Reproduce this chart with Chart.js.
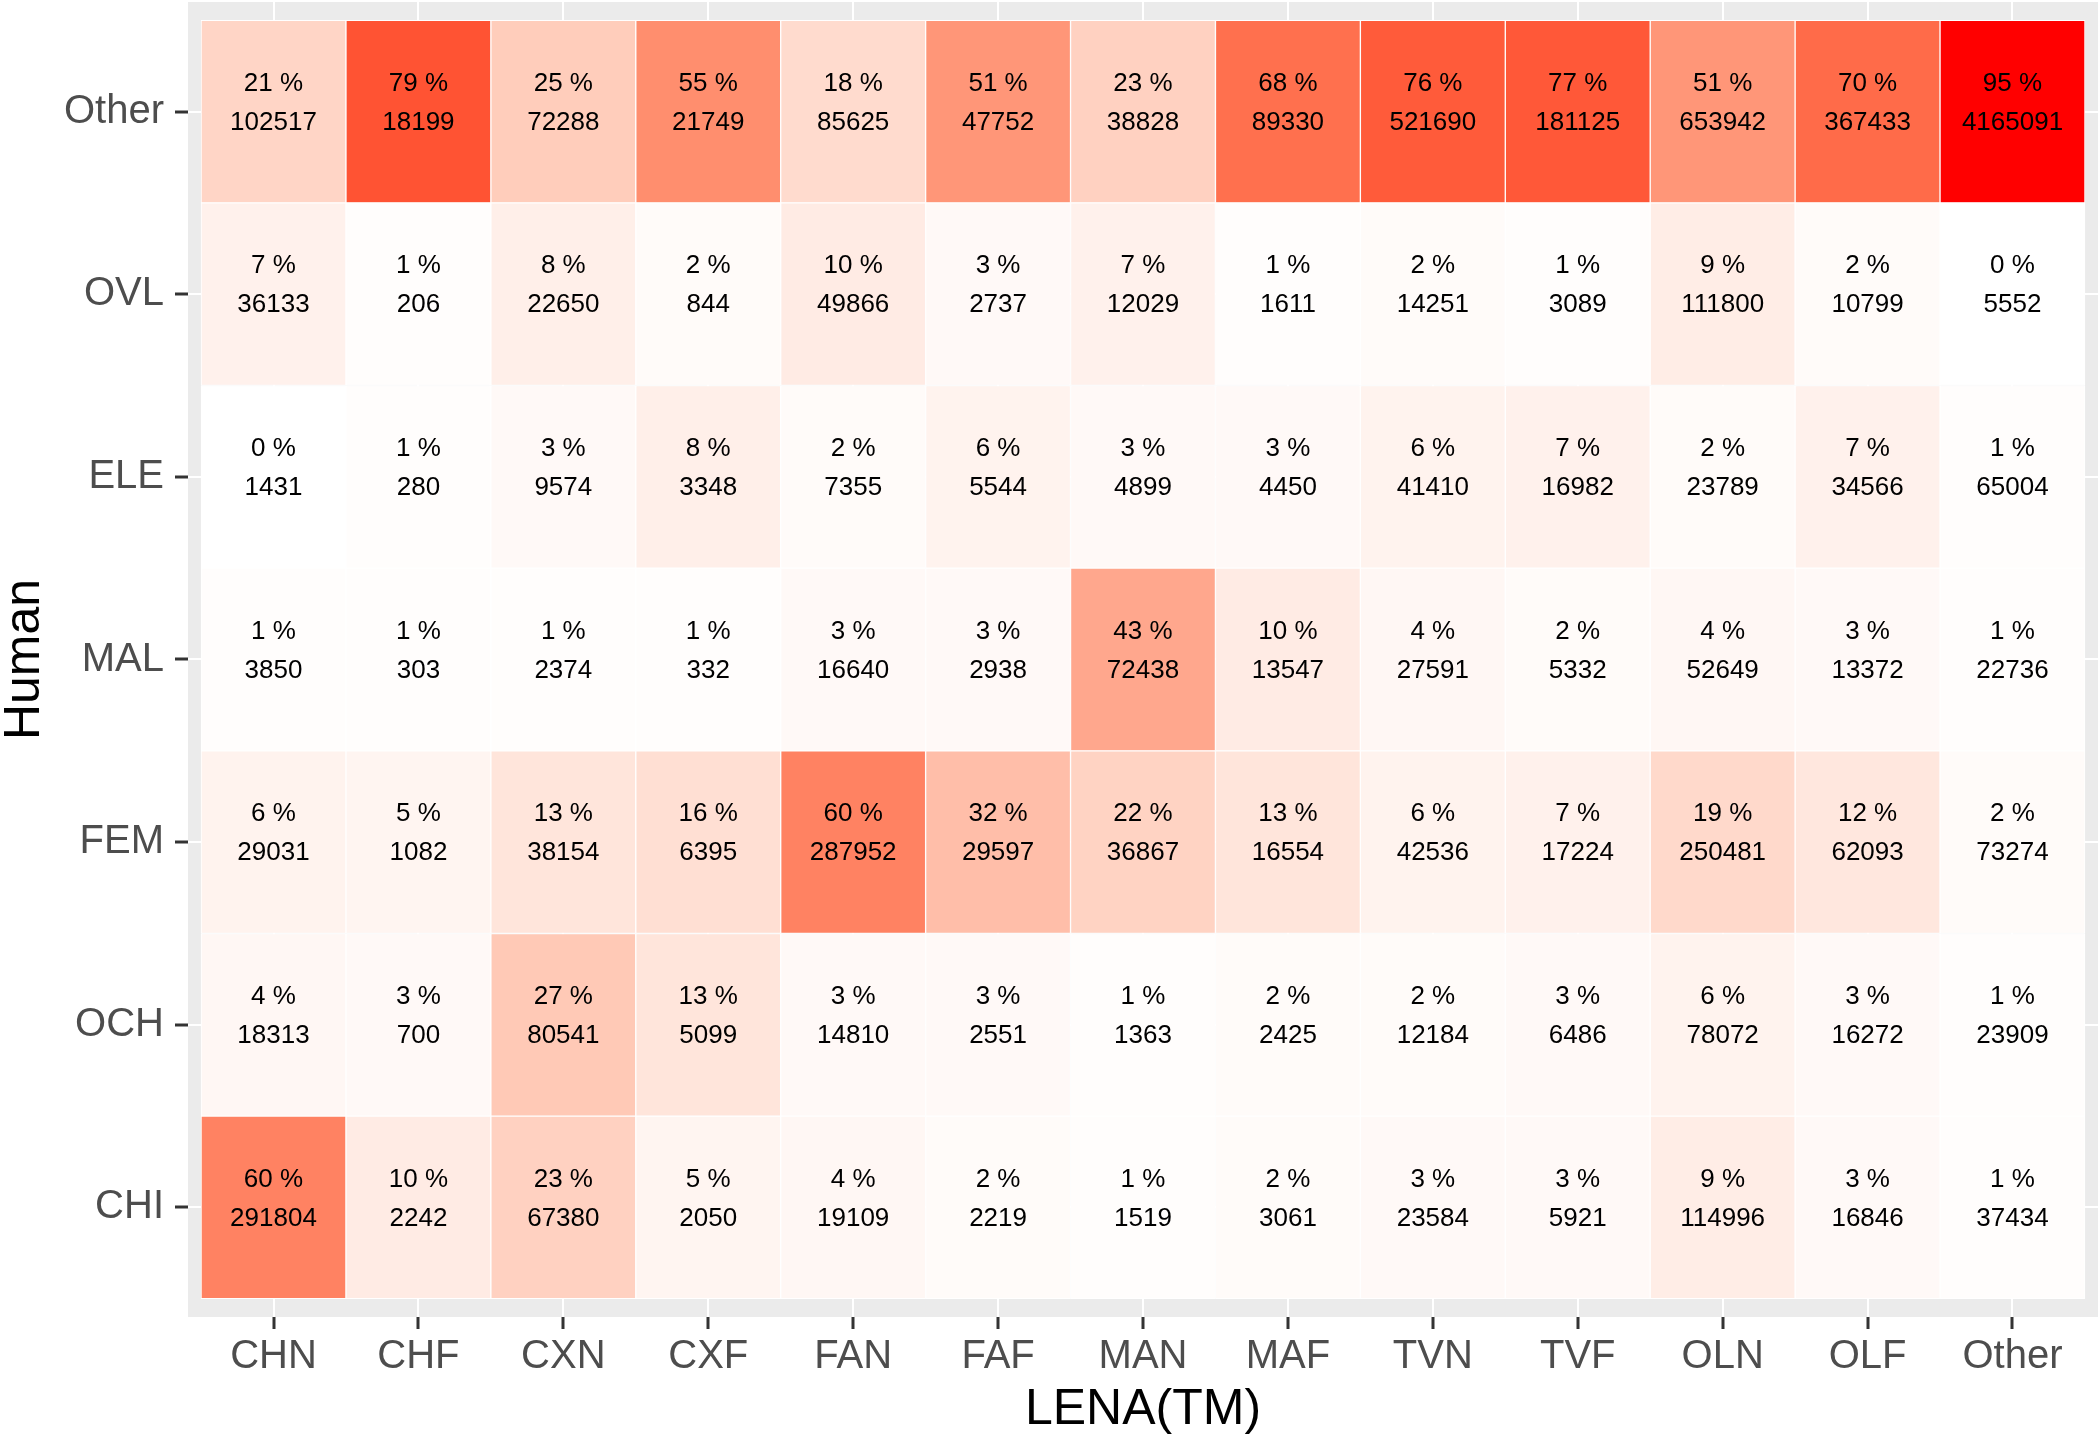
<!DOCTYPE html>
<html>
<head>
<meta charset="utf-8">
<script src="https://cdn.jsdelivr.net/npm/chart.js@4.4.1/dist/chart.umd.min.js"></script>
<style>
  html, body { margin: 0; padding: 0; background: #ffffff; }
  canvas { display: block; }
</style>
</head>
<body>
<canvas id="heat" width="2100" height="1440"></canvas>
<script>
// LENA(TM) columns, Human rows (bottom to top)
var lenaCats = ['CHN', 'CHF', 'CXN', 'CXF', 'FAN', 'FAF', 'MAN', 'MAF', 'TVN', 'TVF', 'OLN', 'OLF', 'Other'];
var humanCats = ['CHI', 'OCH', 'FEM', 'MAL', 'ELE', 'OVL', 'Other'];

// percent of column, then raw counts, one pair per human row
var pctCHI = [60, 10, 23, 5, 4, 2, 1, 2, 3, 3, 9, 3, 1];
var cntCHI = [291804, 2242, 67380, 2050, 19109, 2219, 1519, 3061, 23584, 5921, 114996, 16846, 37434];
var pctOCH = [4, 3, 27, 13, 3, 3, 1, 2, 2, 3, 6, 3, 1];
var cntOCH = [18313, 700, 80541, 5099, 14810, 2551, 1363, 2425, 12184, 6486, 78072, 16272, 23909];
var pctFEM = [6, 5, 13, 16, 60, 32, 22, 13, 6, 7, 19, 12, 2];
var cntFEM = [29031, 1082, 38154, 6395, 287952, 29597, 36867, 16554, 42536, 17224, 250481, 62093, 73274];
var pctMAL = [1, 1, 1, 1, 3, 3, 43, 10, 4, 2, 4, 3, 1];
var cntMAL = [3850, 303, 2374, 332, 16640, 2938, 72438, 13547, 27591, 5332, 52649, 13372, 22736];
var pctELE = [0, 1, 3, 8, 2, 6, 3, 3, 6, 7, 2, 7, 1];
var cntELE = [1431, 280, 9574, 3348, 7355, 5544, 4899, 4450, 41410, 16982, 23789, 34566, 65004];
var pctOVL = [7, 1, 8, 2, 10, 3, 7, 1, 2, 1, 9, 2, 0];
var cntOVL = [36133, 206, 22650, 844, 49866, 2737, 12029, 1611, 14251, 3089, 111800, 10799, 5552];
var pctOther = [21, 79, 25, 55, 18, 51, 23, 68, 76, 77, 51, 70, 95];
var cntOther = [102517, 18199, 72288, 21749, 85625, 47752, 38828, 89330, 521690, 181125, 653942, 367433, 4165091];

var pctRows = [pctCHI, pctOCH, pctFEM, pctMAL, pctELE, pctOVL, pctOther];
var cntRows = [cntCHI, cntOCH, cntFEM, cntMAL, cntELE, cntOVL, cntOther];

// white -> red in Lab, like scale_fill_gradient
var toLab = (r, g, b) => {
  var lin = (c) => { c /= 255; return c > 0.04045 ? Math.pow((c + 0.055) / 1.055, 2.4) : c / 12.92; };
  r = lin(r); g = lin(g); b = lin(b);
  var X = (0.4124 * r + 0.3576 * g + 0.1805 * b) / 0.95047;
  var Y = (0.2126 * r + 0.7152 * g + 0.0722 * b);
  var Z = (0.0193 * r + 0.1192 * g + 0.9505 * b) / 1.08883;
  var f = (t) => t > 0.008856 ? Math.cbrt(t) : 7.787 * t + 16 / 116;
  return [116 * f(Y) - 16, 500 * (f(X) - f(Y)), 200 * (f(Y) - f(Z))];
};
var fromLab = (L, a, bb) => {
  var fy = (L + 16) / 116, fx = fy + a / 500, fz = fy - bb / 200;
  var inv = (t) => t * t * t > 0.008856 ? t * t * t : (t - 16 / 116) / 7.787;
  var X = 0.95047 * inv(fx), Y = inv(fy), Z = 1.08883 * inv(fz);
  var r = 3.2406 * X - 1.5372 * Y - 0.4986 * Z;
  var g = -0.9689 * X + 1.8758 * Y + 0.0415 * Z;
  var b = 0.0557 * X - 0.2040 * Y + 1.0570 * Z;
  var gam = (c) => {
    c = c > 0.0031308 ? 1.055 * Math.pow(c, 1 / 2.4) - 0.055 : 12.92 * c;
    return Math.round(Math.max(0, Math.min(1, c)) * 255);
  };
  return 'rgb(' + gam(r) + ',' + gam(g) + ',' + gam(b) + ')';
};
var labLow = toLab(255, 255, 255);
var labHigh = toLab(255, 0, 0);
var fillFor = (p) => {
  var t = Math.max(0, Math.min(1, p / 95));
  return fromLab(
    labLow[0] + (labHigh[0] - labLow[0]) * t,
    labLow[1] + (labHigh[1] - labLow[1]) * t,
    labLow[2] + (labHigh[2] - labLow[2]) * t
  );
};

var datasets = humanCats.map((name, r) => ({
  label: name,
  data: lenaCats.map((c, i) => ({ x: i, y: 1 })),
  backgroundColor: pctRows[r].map(fillFor),
  borderColor: '#ffffff',
  borderWidth: 1,
  borderSkipped: false,
  barPercentage: 1,
  categoryPercentage: 1
}));

// grey ggplot panel
var panelBg = {
  id: 'panelBg',
  beforeDraw: (chart) => {
    var ctx = chart.ctx, a = chart.chartArea;
    ctx.save();
    ctx.fillStyle = '#ffffff';
    ctx.fillRect(0, 0, chart.width, chart.height);
    ctx.fillStyle = '#ebebeb';
    ctx.fillRect(a.left, a.top, a.right - a.left, a.bottom - a.top);
    ctx.restore();
  }
};

// "xx %" and count in every tile
var tileText = {
  id: 'tileText',
  afterDatasetsDraw: (chart) => {
    var ctx = chart.ctx;
    ctx.save();
    ctx.fillStyle = '#000000';
    ctx.font = '26px "Liberation Sans", Arial, sans-serif';
    ctx.textAlign = 'center';
    ctx.textBaseline = 'middle';
    chart.data.datasets.forEach((ds, r) => {
      var meta = chart.getDatasetMeta(r);
      meta.data.forEach((bar, i) => {
        var cy = (bar.y + bar.base) / 2;
        ctx.fillText(pctRows[r][i] + ' %', bar.x, cy - 28);
        ctx.fillText(String(cntRows[r][i]), bar.x, cy + 11);
      });
    });
    ctx.restore();
  }
};

var tickFont = { family: '"Liberation Sans", Arial, sans-serif', size: 40 };
var titleFont = { family: '"Liberation Sans", Arial, sans-serif', size: 50 };

var ctx = document.getElementById('heat').getContext('2d');
var heatChart = new Chart(ctx, {
  type: 'bar',
  data: { datasets: datasets },
  options: {
    responsive: false,
    animation: false,
    layout: { padding: { top: 2, right: 2, left: 0, bottom: 0 } },
    plugins: {
      legend: { display: false },
      tooltip: { enabled: false }
    },
    scales: {
      x: {
        type: 'linear',
        stacked: true,
        offset: false,
        min: -0.59,
        max: 12.59,
        afterBuildTicks: (scale) => { scale.ticks = lenaCats.map((c, i) => ({ value: i })); },
        afterFit: (scale) => { scale.height = 123; scale.paddingLeft = 0; scale.paddingRight = 0; },
        ticks: {
          autoSkip: false,
          maxRotation: 0,
          padding: 4,
          color: '#4d4d4d',
          font: tickFont,
          callback: (v) => lenaCats[Math.round(v)]
        },
        grid: { offset: false, color: '#ffffff', lineWidth: 2, tickColor: '#333333', tickWidth: 3, tickLength: 12 },
        border: { display: false },
        title: { display: true, text: 'LENA(TM)', color: '#000000', font: titleFont, padding: 0 }
      },
      y: {
        type: 'linear',
        stacked: true,
        min: -0.1,
        max: 7.1,
        afterBuildTicks: (scale) => { scale.ticks = humanCats.map((c, i) => ({ value: i + 0.5 })); },
        afterFit: (scale) => { scale.width = 188; scale.paddingTop = 0; scale.paddingBottom = 0; },
        ticks: {
          autoSkip: false,
          padding: 11,
          color: '#4d4d4d',
          font: tickFont,
          callback: (v) => humanCats[Math.round(v - 0.5)]
        },
        grid: { color: '#ffffff', lineWidth: 2, tickColor: '#333333', tickWidth: 3, tickLength: 13 },
        border: { display: false },
        title: { display: true, text: 'Human', color: '#000000', font: Object.assign({ lineHeight: 1 }, titleFont), padding: 0 }
      }
    }
  },
  plugins: [panelBg, tileText]
});
</script>
</body>
</html>
